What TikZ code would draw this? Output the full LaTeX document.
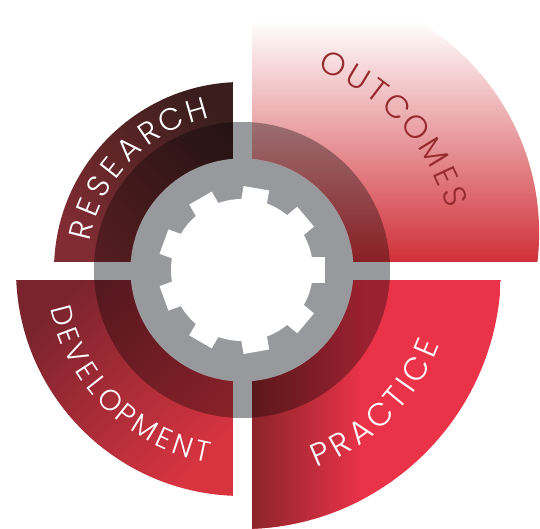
\documentclass[tikz,border=0pt]{standalone}
\usepackage{fontspec}
\newfontfamily\labelfont{Poppins}[UprightFont=* Light]

\definecolor{gearGray}{RGB}{151,153,157}
\definecolor{researchLight}{RGB}{128,44,50}
\definecolor{researchDark}{RGB}{58,30,29}
\definecolor{outcomesMid}{RGB}{236,172,152}
\definecolor{outcomesRed}{RGB}{208,48,56}
\definecolor{outcomesText}{RGB}{150,42,46}
\definecolor{practiceDark}{RGB}{140,36,42}
\definecolor{practiceRed}{RGB}{234,51,72}
\definecolor{developDark}{RGB}{122,36,46}
\definecolor{developRed}{RGB}{216,52,64}

\tikzset{
	arcletter/.style={inner sep=0pt, text=white, font=\labelfont\fontsize{#1}{#1}\selectfont},
	band/.style={black, opacity=0.34, even odd rule}
}

\begin{document}
\begin{tikzpicture}[x=1pt,y=1pt]
	\useasboundingbox (-242,-259) rectangle (298,270);
	\begin{scope}
		\clip (-9.5,8) rectangle (-200,200);
		\clip (0,0) circle (188);
		\shade[top color=researchDark, bottom color=researchLight, shading angle=-45] (-9.5,8) rectangle (-188,188);
	\end{scope}
	\begin{scope}
		\clip (10,8) rectangle (300,290);
		\clip (51.5,37) circle (245.6);
		\shade[top color=white, middle color=outcomesMid, bottom color=outcomesRed] (10,8) rectangle (298,250);
	\end{scope}
	\begin{scope}
		\clip (10,-10.5) rectangle (300,-300);
		\clip (0,0) circle (259);
		\fill[practiceRed] (10,-10.5) rectangle (259,-259);
		\shade[left color=practiceDark, right color=practiceRed] (10,-10.5) rectangle (120,-259);
	\end{scope}
	\begin{scope}
		\clip (-9.5,-10.5) rectangle (-300,-300);
		\clip (0,0) circle (226);
		\shade[top color=developDark, bottom color=developRed, shading angle=45] (-9.5,-10.5) rectangle (-226,-226);
	\end{scope}
	\fill[band] (0,0) circle (148) circle (111.5);
	\begin{scope}
		\clip (0,0) circle (148);
		\fill[gearGray] (-9.5,-148) rectangle (10,148);
		\fill[gearGray] (-148,-10.5) rectangle (148,8);
	\end{scope}
	\fill[gearGray] (0,0) circle (111.5);
	\fill[white] (0,0) circle (71);
	\foreach \a in {0,40,...,320}
		\fill[white, rotate=\a] (60,-13) rectangle (83,13);
	\foreach \ch/\ang [count=\i] in {R/166,E/157.8,S/149.8,E/141.8,A/133.2,R/124.3,C/115.3,H/106}
		\node[arcletter=31, rotate=\ang-90] (research-\i) at (\ang:166) {\ch};
	\foreach \ch/\ang [count=\i] in {O/66,U/59,T/52.8,C/46.4,O/39.3,M/31.6,E/24.8,S/19}
		\node[arcletter=32, text=outcomesText, rotate=\ang-90] (outcomes-\i) at (\ang:225) {\ch};
	\foreach \ch/\ang [count=\i] in {P/-67,R/-60.6,A/-53.8,C/-46.5,T/-39.9,I/-35.1,C/-29.6,E/-23}
		\node[arcletter=32, rotate=\ang+90] (practice-\i) at (\ang:200) {\ch};
	\foreach \ch/\ang [count=\i] in {D/194.5,E/200.7,V/206.9,E/213,L/218.4,O/224.7,P/231.4,M/238.4,E/245.3,N/251.6,T/257.9}
		\node[arcletter=29, rotate=\ang+90] (develop-\i) at (\ang:185) {\ch};
\end{tikzpicture}
\end{document}
